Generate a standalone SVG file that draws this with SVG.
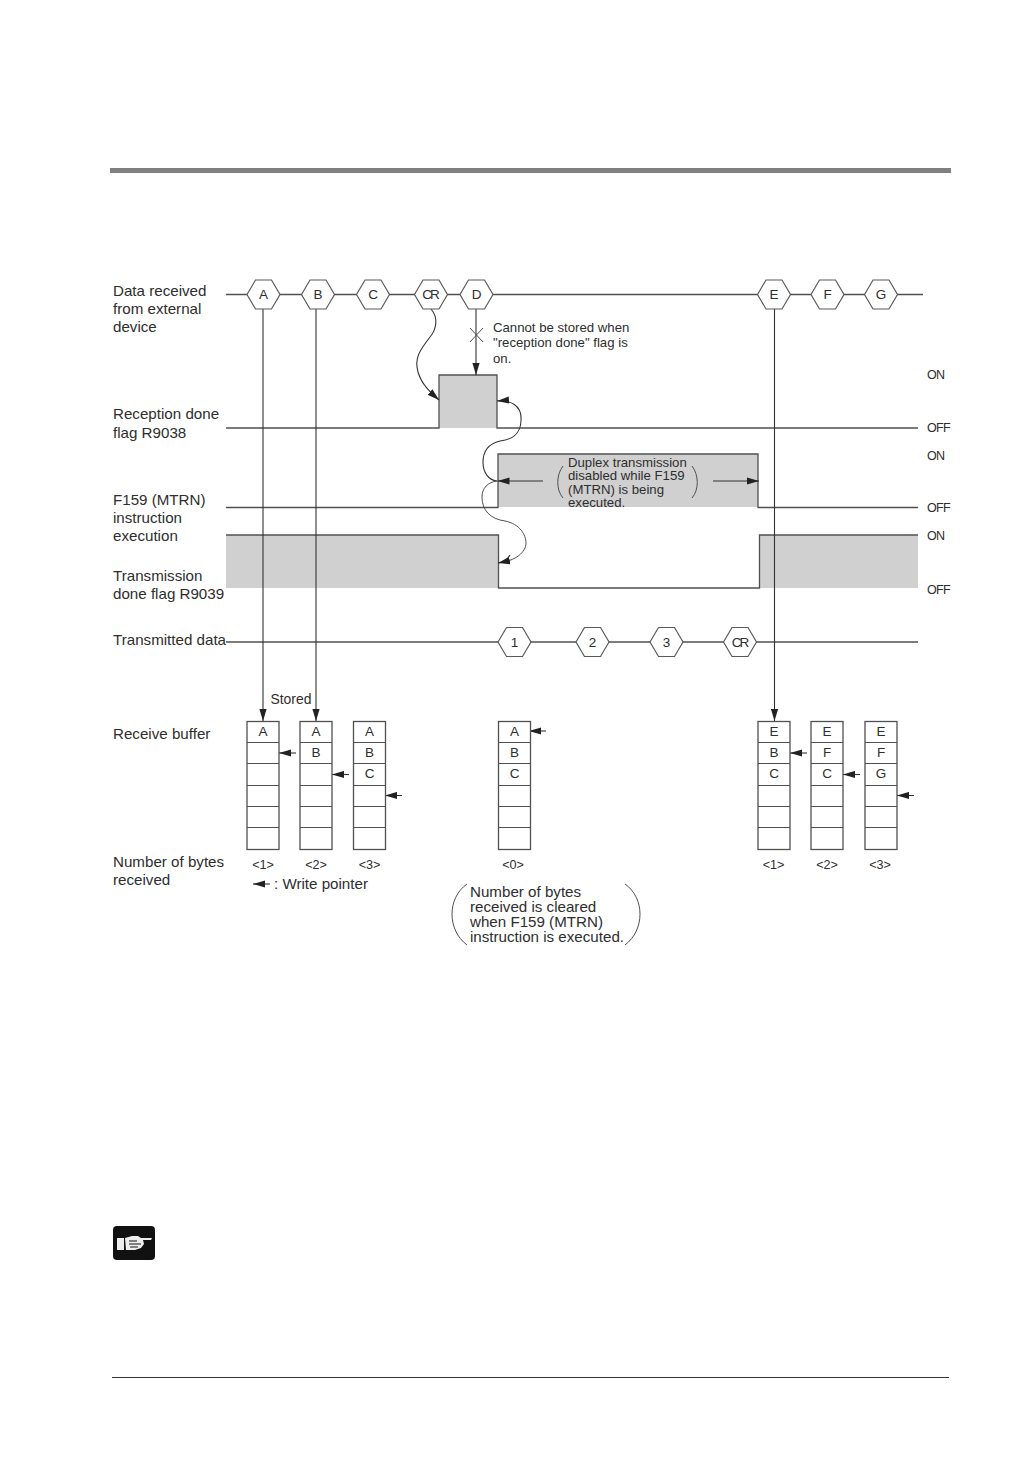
<svg xmlns="http://www.w3.org/2000/svg" width="1033" height="1457" viewBox="0 0 1033 1457">
<style>
text{font-family:"Liberation Sans",Arial,sans-serif;fill:#2e2e2e}
.l{font-size:15.15px}
.c{font-size:13.5px;text-anchor:middle}
.s{font-size:13.2px}
.n{font-size:12.6px;text-anchor:middle}
.o{font-size:12.5px;letter-spacing:-.7px}
.w{fill:none;stroke:#505050;stroke-width:1.3}
.g{fill:#d0d0d0;stroke:none}
.h{fill:#fff;stroke:#5a5a5a;stroke-width:1.2}
.b{fill:#fff;stroke:#505050;stroke-width:1.3}
.a{fill:none;stroke:#333;stroke-width:1.1;marker-end:url(#ah)}
.p{fill:none;stroke:#505050;stroke-width:1}
</style>
<defs>
<marker id="ah" markerUnits="userSpaceOnUse" markerWidth="13" markerHeight="8" refX="12" refY="4" orient="auto"><path d="M0,0.4 L12,4 L0,7.6 Z" fill="#222"/></marker>
<polygon id="hx" points="-16.5,0 -8,-14.5 8,-14.5 16.5,0 8,14.5 -8,14.5"/>
<g id="col"><rect class="b" x="0" y="0" width="32" height="128"/><path class="p" d="M0,21H32M0,42H32M0,64H32M0,85H32M0,106H32"/></g>
</defs>
<rect width="1033" height="1457" fill="#fff"/>
<rect id="top-rule" x="110" y="168" width="841" height="5" fill="#808080"/>
<rect id="bottom-rule" x="112" y="1377" width="837" height="1" fill="#333"/>

<g id="waveforms">
<rect class="g" x="439" y="375" width="58" height="53"/>
<rect class="g" x="498" y="454" width="260" height="53"/>
<rect class="g" x="226" y="535" width="272" height="53"/>
<rect class="g" x="760" y="535" width="158" height="53"/>
<path class="w" d="M226,294.5H923"/>
<path class="w" d="M226,428H439V375H497V428H918"/>
<path class="w" d="M226,507.500H498V454H758V507.500H918"/>
<path class="w" d="M226,535H498.500V588H759.500V535H918"/>
<path class="w" d="M226,642H918"/>
</g>

<g id="connectors">
<path class="a" d="M263,309V721"/>
<path class="a" d="M316,309V721"/>
<path class="a" d="M476,309V375"/>
<path class="a" d="M774.500,309V721"/>
<path class="p" d="M470,328L483,342M483,328L470,342"/>
<path class="a" d="M431,309C439,318 436,330 430,337C420,350 414,358 418,372C422,385 430,392 439,400"/>
<path class="a" d="M497,481C488,480 483,472 483,462C483,452 488,444 500,441C510,440 521,435 521,420C522,405 510,400 497,401"/>
<path class="p" d="M497,481C488,482 482,488 482,497C482,510 490,519 505,521C520,524 526,535 526,543C526,552 516,561 498,563"/>
<path class="a" d="M510,555C507,560 503,562 498,563"/>
<path class="a" d="M543,481H497.500"/>
<path class="a" d="M713,481H759"/>
<path class="a" d="M296,753H279"/>
<path class="a" d="M349,774.500H332"/>
<path class="a" d="M402,795.500H385"/>
<path class="a" d="M546,731H529"/>
<path class="a" d="M807,753H790"/>
<path class="a" d="M860,774.500H843"/>
<path class="a" d="M914,795.500H897"/>
<path class="a" d="M270,884H253"/>
</g>

<g id="brackets">
<path class="p" d="M563,466C556,475 556,490 563,498"/>
<path class="p" d="M692,466C699,475 699,490 692,498"/>
<path class="p" d="M467,884C447,898 447,930 467,945"/>
<path class="p" d="M625,884C645,898 645,930 625,945"/>
</g>

<g id="rx-A"><use href="#hx" x="263.500" y="294.500" class="h"/><text class="c" x="263.500" y="299">A</text></g>
<g id="rx-B"><use href="#hx" x="318" y="294.500" class="h"/><text class="c" x="318" y="299">B</text></g>
<g id="rx-C"><use href="#hx" x="373" y="294.500" class="h"/><text class="c" x="373" y="299">C</text></g>
<g id="rx-CR"><use href="#hx" x="431" y="294.500" class="h"/><text class="c" x="430" y="299" letter-spacing="-2">CR</text></g>
<g id="rx-D"><use href="#hx" x="476.500" y="294.500" class="h"/><text class="c" x="476.500" y="299">D</text></g>
<g id="rx-E"><use href="#hx" x="774" y="294.500" class="h"/><text class="c" x="774" y="299">E</text></g>
<g id="rx-F"><use href="#hx" x="827.500" y="294.500" class="h"/><text class="c" x="827.500" y="299">F</text></g>
<g id="rx-G"><use href="#hx" x="881" y="294.500" class="h"/><text class="c" x="881" y="299">G</text></g>
<g id="tx-1"><use href="#hx" x="514.500" y="642" class="h"/><text class="c" x="514.500" y="646.500">1</text></g>
<g id="tx-2"><use href="#hx" x="592.500" y="642" class="h"/><text class="c" x="592.500" y="646.500">2</text></g>
<g id="tx-3"><use href="#hx" x="666.500" y="642" class="h"/><text class="c" x="666.500" y="646.500">3</text></g>
<g id="tx-CR"><use href="#hx" x="740" y="642" class="h"/><text class="c" x="739.500" y="646.500" letter-spacing="-2">CR</text></g>

<g id="labels">
<text class="l" x="113" y="296">Data received</text>
<text class="l" x="113" y="314">from external</text>
<text class="l" x="113" y="332">device</text>
<text class="l" x="113" y="419">Reception done</text>
<text class="l" x="113" y="438">flag R9038</text>
<text class="l" x="113" y="505">F159 (MTRN)</text>
<text class="l" x="113" y="523">instruction</text>
<text class="l" x="113" y="541">execution</text>
<text class="l" x="113" y="581">Transmission</text>
<text class="l" x="113" y="599">done flag R9039</text>
<text class="l" x="113" y="645">Transmitted data</text>
<text class="l" x="113" y="739">Receive buffer</text>
<text class="l" x="113" y="867">Number of bytes</text>
<text class="l" x="113" y="885">received</text>
<text x="270.500" y="704" style="font-size:13.9px">Stored</text>
<text class="l" x="274" y="889">: Write pointer</text>
<text class="s" x="493" y="332">Cannot be stored when</text>
<text class="s" x="493" y="347">"reception done" flag is</text>
<text class="s" x="493" y="363">on.</text>
<text class="s" x="568" y="467">Duplex transmission</text>
<text class="s" x="568" y="480">disabled while F159</text>
<text class="s" x="568" y="494">(MTRN) is being</text>
<text class="s" x="568" y="507">executed.</text>
<text class="l" x="470" y="897">Number of bytes</text>
<text class="l" x="470" y="912">received is cleared</text>
<text class="l" x="470" y="927">when F159 (MTRN)</text>
<text class="l" x="470" y="942">instruction is executed.</text>
<text class="o" x="927" y="379">ON</text>
<text class="o" x="927" y="432">OFF</text>
<text class="o" x="927" y="460">ON</text>
<text class="o" x="927" y="512">OFF</text>
<text class="o" x="927" y="540">ON</text>
<text class="o" x="927" y="594">OFF</text>
</g>

<g id="buf-1"><use href="#col" x="247" y="721.500"/><text class="c" x="263" y="736">A</text><text class="n" x="263" y="869">&lt;1&gt;</text></g>
<g id="buf-2"><use href="#col" x="300" y="721.500"/><text class="c" x="316" y="736">A</text><text class="c" x="316" y="757">B</text><text class="n" x="316" y="869">&lt;2&gt;</text></g>
<g id="buf-3"><use href="#col" x="353.500" y="721.500"/><text class="c" x="369.500" y="736">A</text><text class="c" x="369.500" y="757">B</text><text class="c" x="369.500" y="778">C</text><text class="n" x="369.500" y="869">&lt;3&gt;</text></g>
<g id="buf-0"><use href="#col" x="498.500" y="721.500"/><text class="c" x="514.500" y="736">A</text><text class="c" x="514.500" y="757">B</text><text class="c" x="514.500" y="778">C</text><text class="n" x="513" y="869">&lt;0&gt;</text></g>
<g id="buf-4"><use href="#col" x="758" y="721.500"/><text class="c" x="774" y="736">E</text><text class="c" x="774" y="757">B</text><text class="c" x="774" y="778">C</text><text class="n" x="773.500" y="869">&lt;1&gt;</text></g>
<g id="buf-5"><use href="#col" x="811" y="721.500"/><text class="c" x="827" y="736">E</text><text class="c" x="827" y="757">F</text><text class="c" x="827" y="778">C</text><text class="n" x="827" y="869">&lt;2&gt;</text></g>
<g id="buf-6"><use href="#col" x="865" y="721.500"/><text class="c" x="881" y="736">E</text><text class="c" x="881" y="757">F</text><text class="c" x="881" y="778">G</text><text class="n" x="880" y="869">&lt;3&gt;</text></g>

<g id="hand-icon">
<rect x="113" y="1226" width="42" height="34" rx="4" fill="#111"/>
<rect x="117" y="1238" width="7" height="12" fill="#eee"/>
<path d="M125,1238L132,1236H138L141,1238H152L151,1240H143L144,1244L141,1248L135,1250H126Z" fill="#eee"/>
<path d="M129,1241H137M129,1244H141M130,1247H138" stroke="#111" stroke-width="1" fill="none"/>
</g>
</svg>
